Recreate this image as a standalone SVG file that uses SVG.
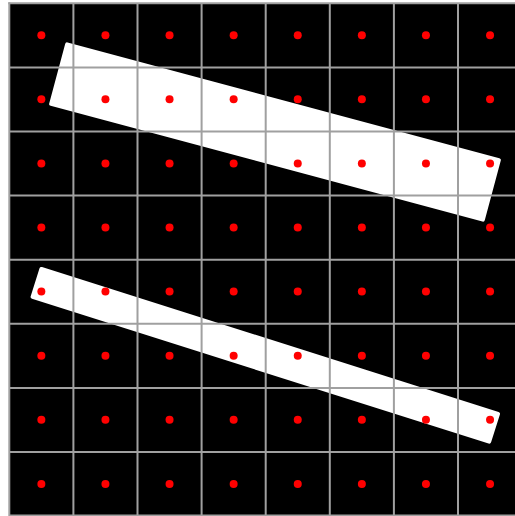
<svg xmlns="http://www.w3.org/2000/svg" width="515" height="516" viewBox="0 0 515 516">
  <style>
    .grid line { stroke: #a0a0a0; stroke-width: 2; }
    .dot { fill: #ff0000; }
    .band { fill: #ffffff; }
  </style>
  <rect x="0" y="0" width="515" height="516" fill="#ffffff"/>
  <rect id="board" x="9.3" y="3.3" width="520" height="520" fill="#000000"/>
  <g id="band1">
    <rect class="band" x="-225.5" y="-32.8" width="451" height="65.6" rx="2" transform="translate(275 132) rotate(15)"/>
  </g>
  <g id="band2">
    <rect class="band" x="-241.5" y="-16.6" width="483" height="33.2" rx="2" transform="translate(265.3 355.3) rotate(17.6)"/>
  </g>
  <g id="grid" class="grid">
    <line x1="9.3" y1="2.3" x2="9.3" y2="516"/>
    <line x1="73.4" y1="3.3" x2="73.4" y2="516"/>
    <line x1="137.5" y1="3.3" x2="137.5" y2="516"/>
    <line x1="201.6" y1="3.3" x2="201.6" y2="516"/>
    <line x1="265.7" y1="3.3" x2="265.7" y2="516"/>
    <line x1="329.8" y1="3.3" x2="329.8" y2="516"/>
    <line x1="393.9" y1="3.3" x2="393.9" y2="516"/>
    <line x1="458" y1="3.3" x2="458" y2="516"/>
    <line x1="8.3" y1="3.3" x2="515" y2="3.3"/>
    <line x1="9.3" y1="67.4" x2="515" y2="67.4"/>
    <line x1="9.3" y1="131.5" x2="515" y2="131.5"/>
    <line x1="9.3" y1="195.6" x2="515" y2="195.6"/>
    <line x1="9.3" y1="259.7" x2="515" y2="259.7"/>
    <line x1="9.3" y1="323.8" x2="515" y2="323.8"/>
    <line x1="9.3" y1="387.9" x2="515" y2="387.9"/>
    <line x1="9.3" y1="452" x2="515" y2="452"/>
    <line x1="9.3" y1="515.5" x2="515" y2="515.5"/>
  </g>
  <defs>
    <g id="row">
      <circle class="dot" cx="41.35" cy="0" r="4"/>
      <circle class="dot" cx="105.45" cy="0" r="4"/>
      <circle class="dot" cx="169.55" cy="0" r="4"/>
      <circle class="dot" cx="233.65" cy="0" r="4"/>
      <circle class="dot" cx="297.75" cy="0" r="4"/>
      <circle class="dot" cx="361.85" cy="0" r="4"/>
      <circle class="dot" cx="425.95" cy="0" r="4"/>
      <circle class="dot" cx="490.05" cy="0" r="4"/>
    </g>
  </defs>
  <g id="dots">
    <use href="#row" y="35.2"/>
    <use href="#row" y="99.3"/>
    <use href="#row" y="163.4"/>
    <use href="#row" y="227.5"/>
    <use href="#row" y="291.6"/>
    <use href="#row" y="355.7"/>
    <use href="#row" y="419.8"/>
    <use href="#row" y="483.9"/>
  </g>
</svg>
